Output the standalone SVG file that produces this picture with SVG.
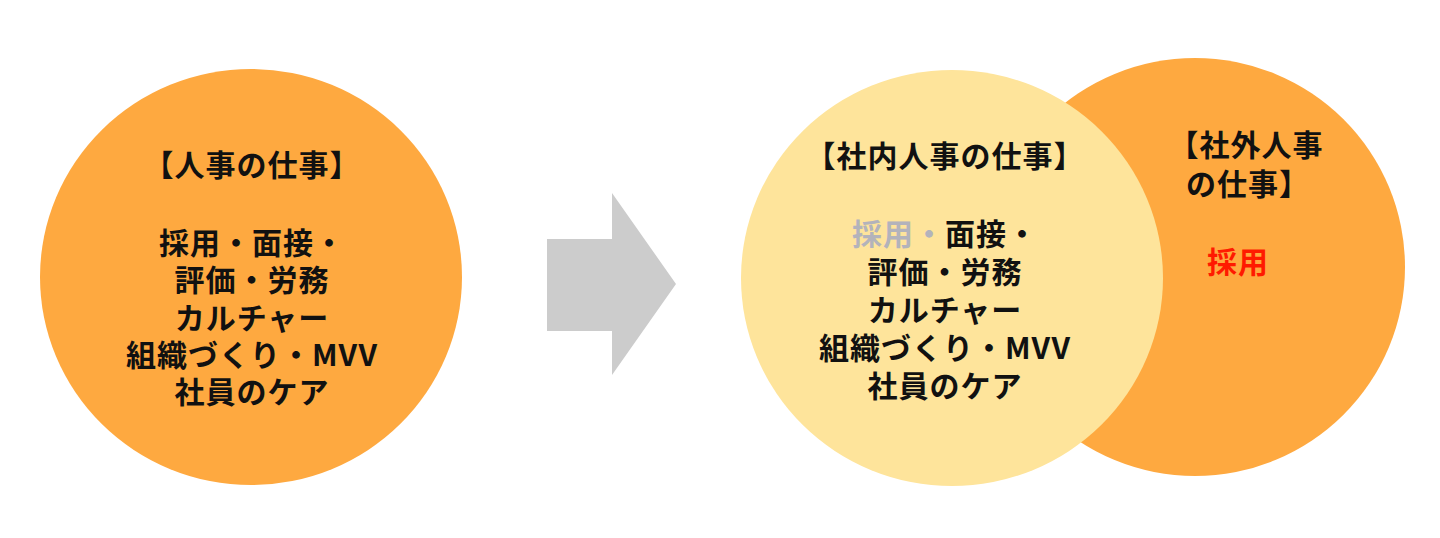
<svg xmlns="http://www.w3.org/2000/svg" width="1440" height="538" viewBox="0 0 1440 538">
<style>
.t{font-family:"Noto Sans CJK JP","Noto Sans",sans-serif;font-weight:bold;font-size:30px;letter-spacing:1px;fill:#111;text-anchor:middle}
.gray{fill:#b3b3bb}
.red{fill:#ff1a00}
</style>
<rect width="1440" height="538" fill="#ffffff"/>
<g id="hr-circle">
<ellipse cx="251" cy="277" rx="211" ry="208" fill="#fea940"/>
<text class="t" x="252" y="176">【人事の仕事】</text>
<text class="t" x="252" y="254">採用・面接・<tspan x="252" dy="37.3">評価・労務</tspan><tspan x="252" dy="37.3">カルチャー</tspan><tspan x="252" dy="37.3">組織づくり・MVV</tspan><tspan x="252" dy="37.3">社員のケア</tspan></text>
</g>
<g id="connectors">
<polygon id="arrow" points="547,239 612,239 612,193 676,284 612,375 612,331 547,331" fill="#cccccc"/>
</g>
<g id="external-hr">
<ellipse cx="1195" cy="267" rx="210" ry="209" fill="#fea940"/>
<text class="t" x="1246" y="156">【社外人事<tspan x="1248" dy="39">の仕事】</tspan></text>
<text class="t red" x="1238" y="273">採用</text>
</g>
<g id="internal-hr">
<ellipse cx="952" cy="278" rx="211" ry="208" fill="#fee49b"/>
<text class="t" x="945" y="167">【社内人事の仕事】</text>
<text class="t" x="945" y="245"><tspan class="gray">採用・</tspan>面接・<tspan x="945" dy="38">評価・労務</tspan><tspan x="945" dy="38">カルチャー</tspan><tspan x="945" dy="38">組織づくり・MVV</tspan><tspan x="945" dy="38">社員のケア</tspan></text>
</g>
</svg>
